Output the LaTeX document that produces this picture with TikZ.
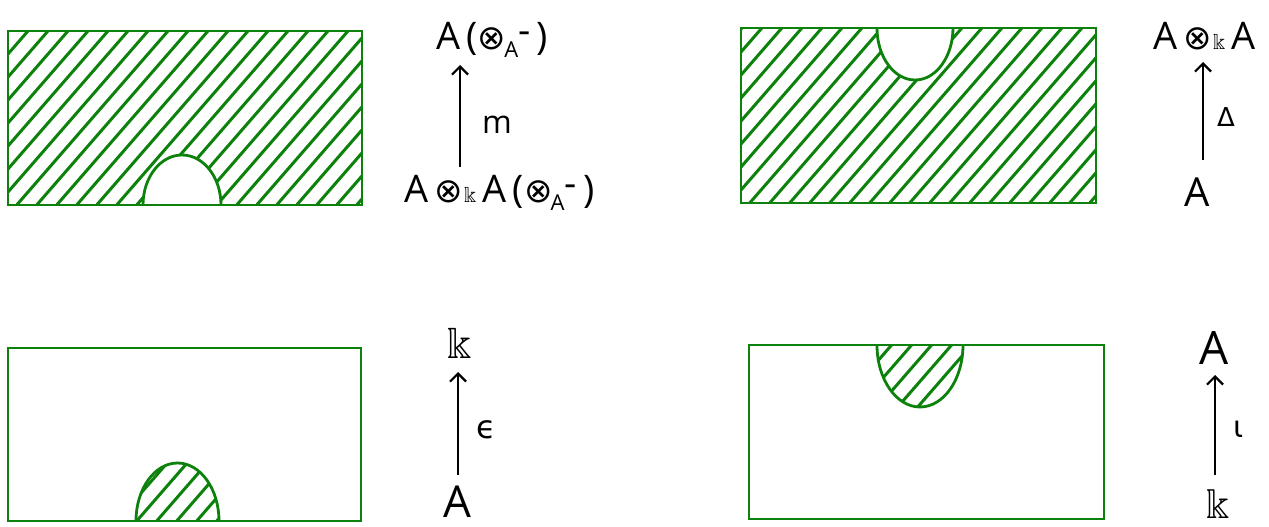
\documentclass[tikz,border=0pt]{standalone}
\usepackage{fontspec}
\usepackage{amssymb}
\setmainfont{Open Sans}
\newfontfamily\symf{DejaVu Sans}
\usetikzlibrary{arrows.meta}
\definecolor{hg}{RGB}{12,130,12}
\newcommand{\ox}{{\symf\fontsize{34}{34}\selectfont ⊗}}
\newcommand{\sk}{{\fontsize{22}{22}\selectfont$\Bbbk$}}
\newcommand{\hatchfill}[2]{\foreach \i in {-10,...,20}{\draw[hatch] ({#1+\i*20},{#2}) -- ++(200,-230);}}
\begin{document}
\begin{tikzpicture}[x=1pt,y=-1pt,
  frame/.style={draw=hg,line width=2.8pt},
  hatch/.style={draw=hg,line width=3pt},
  lbl/.style={inner sep=0pt,anchor=base west},
  arr/.style={line width=2.2pt,-{Straight Barb[length=8pt,width=16pt,line width=2.2pt]}}]
\useasboundingbox (0,0) rectangle (1269,527);

% ---------- box 1 (top left)
\begin{scope}
  \clip (8,31) rectangle (362,205);
  \begin{scope}[even odd rule]
    \clip (8,31) rectangle (362,205) (182,205) ellipse [x radius=39, y radius=50];
    \hatchfill{8}{215}
  \end{scope}
\end{scope}
\draw[frame] (143,205) arc[start angle=180, end angle=360, x radius=39, y radius=50];
\draw[frame] (8,31) rectangle (362,205);

% ---------- box 2 (top right)
\begin{scope}
  \clip (741,28) rectangle (1096,203);
  \begin{scope}[even odd rule]
    \clip (741,28) rectangle (1096,203) (915,28) ellipse [x radius=38, y radius=52];
    \hatchfill{741}{213}
  \end{scope}
\end{scope}
\draw[frame] (877,28) arc[start angle=180, end angle=0, x radius=38, y radius=52];
\draw[frame] (741,28) rectangle (1096,203);

% ---------- box 3 (bottom left)
\begin{scope}
  \clip (136,521) arc[start angle=180, end angle=360, x radius=41.5, y radius=58] -- cycle;
  \hatchfill{8}{531}
\end{scope}
\draw[frame] (136,521) arc[start angle=180, end angle=360, x radius=41.5, y radius=58];
\draw[frame] (8,348) rectangle (361,521);

% ---------- box 4 (bottom right)
\begin{scope}
  \clip (877,345) arc[start angle=180, end angle=0, x radius=43, y radius=62] -- cycle;
  \hatchfill{749}{417}
\end{scope}
\draw[frame] (877,345) arc[start angle=180, end angle=0, x radius=43, y radius=62];
\draw[frame] (749,345) rectangle (1104,519);

% ---------- labels top left
\node[lbl,font=\fontsize{38}{40}\selectfont] (t1) at (436,50) {A\,(\ox\kern-2pt\raisebox{-8pt}{\fontsize{22}{22}\selectfont A}\raisebox{6pt}{-}\,)};
\node[lbl,font=\fontsize{38}{40}\selectfont] (b1) at (404,202) {A\,\ox\kern1pt\sk\,A\,(\ox\kern-2pt\raisebox{-8pt}{\fontsize{22}{22}\selectfont A}\raisebox{6pt}{-}\,)};
\node[lbl,font=\fontsize{32}{34}\selectfont] (m) at (482,133) {m};
\coordinate (m1s) at (460,167);
\coordinate (m1e) at (460,65);
\draw[arr] (m1s) -- (m1e);

% ---------- labels top right
\node[lbl,font=\fontsize{38}{40}\selectfont] (t2) at (1153,50) {A\,\ox\kern1pt\sk\,A};
\node[lbl,font=\fontsize{40}{42}\selectfont] (b2) at (1184,206) {A};
\node[lbl,font=\symf\fontsize{26}{28}\selectfont] (d) at (1217,126) {Δ};
\coordinate (d1s) at (1203,160);
\coordinate (d1e) at (1203,62);
\draw[arr] (d1s) -- (d1e);

% ---------- labels bottom left
\node[lbl,font=\fontsize{44}{46}\selectfont] (t3) at (447,358) {$\Bbbk$};
\node[lbl,font=\fontsize{44}{46}\selectfont] (b3) at (443,517) {A};
\node[lbl,font=\symf\fontsize{32}{34}\selectfont] (e) at (476,438) {ϵ};
\coordinate (e1s) at (458,475);
\coordinate (e1e) at (458,372);
\draw[arr] (e1s) -- (e1e);

% ---------- labels bottom right
\node[lbl,font=\fontsize{46}{48}\selectfont] (t4) at (1199,364) {A};
\node[lbl,font=\fontsize{42}{44}\selectfont] (b4) at (1206,518) {$\Bbbk$};
\node[lbl,font=\symf\fontsize{30}{32}\selectfont] (i) at (1233,437) {ι};
\coordinate (i1s) at (1215,475);
\coordinate (i1e) at (1215,375);
\draw[arr] (i1s) -- (i1e);
\end{tikzpicture}
\end{document}
